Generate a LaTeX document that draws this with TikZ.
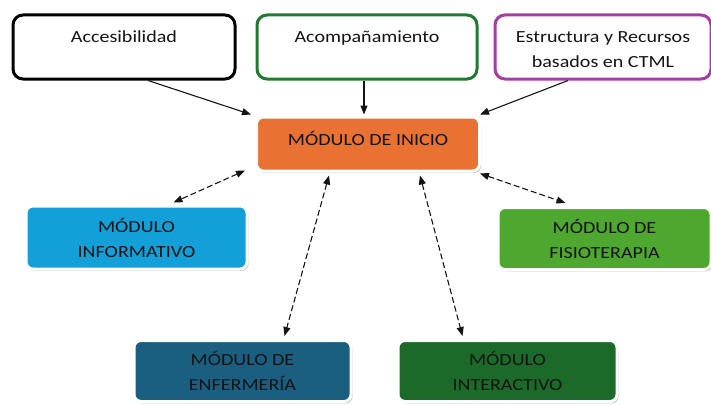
\documentclass[tikz,border=0pt]{standalone}
\usepackage{fontspec}
\setmainfont{Carlito}[FakeStretch=1.18]
\usetikzlibrary{arrows.meta,shadows,calc}
\definecolor{txt}{HTML}{141414}
\definecolor{cacomp}{HTML}{217A32}
\definecolor{cestr}{HTML}{A53DA5}
\definecolor{cini}{HTML}{E97132}
\definecolor{cinf}{HTML}{13A0D8}
\definecolor{cenf}{HTML}{1A5E80}
\definecolor{cfis}{HTML}{4EA72E}
\definecolor{cint}{HTML}{1C6A2A}
\tikzset{
  topbox/.style={draw=#1, line width=3pt, rounded corners=10pt, fill=white,
    align=center, text=txt, font=\fontsize{17}{25}\selectfont, inner sep=2pt},
  modbox/.style={draw=white, line width=3pt, rounded corners=7pt, fill=#1,
    align=center, text=txt, font=\fontsize{17}{25}\selectfont, inner sep=2pt,
    drop shadow={shadow xshift=1.6pt, shadow yshift=-1.8pt, fill=black!35, opacity=0.7}},
  link/.style={draw=txt, line width=1.1pt, -{Triangle[length=9pt,width=7pt]}},
  dlink/.style={draw=txt, line width=1.1pt, dash pattern=on 6pt off 3pt,
    {Triangle[length=9pt,width=7pt]}-{Triangle[length=9pt,width=7pt]}}
}
\begin{document}
\begin{tikzpicture}[x=1pt,y=-1pt]
\useasboundingbox (0,0) rectangle (711,404);
% top boxes
\node[topbox=black, minimum width=222pt, minimum height=64pt] (acc) at (124,47)
  {\raisebox{4.5pt}[0pt][0pt]{Accesibilidad}};
\node[topbox=cacomp, minimum width=220pt, minimum height=64pt] (acom) at (367,47)
  {\raisebox{4.5pt}[0pt][0pt]{Acompañamiento}};
\node[topbox=cestr, minimum width=216pt, minimum height=64pt] (est) at (603,47)
  {\raisebox{-7.25pt}[0pt][0pt]{\begin{tabular}{@{}c@{}}Estructura y Recursos\\basados en CTML\end{tabular}}};
% modules
\node[modbox=cini, minimum width=223pt, minimum height=54pt] (ini) at (368,144)
  {\raisebox{-1.5pt}[0pt][0pt]{MÓDULO DE INICIO}};
\node[modbox=cinf, minimum width=221pt, minimum height=63pt] (inf) at (136.5,237.5) {MÓDULO\\INFORMATIVO};
\node[modbox=cenf, minimum width=217pt, minimum height=61pt] (enf) at (242.5,371) {MÓDULO DE\\ENFERMERÍA};
\node[modbox=cfis, minimum width=213pt, minimum height=62pt] (fis) at (604.5,238.5) {MÓDULO DE\\FISIOTERAPIA};
\node[modbox=cint, minimum width=219pt, minimum height=61pt] (int) at (507.5,371) {MÓDULO\\INTERACTIVO};
% solid arrows
\draw[link] ([xshift=24pt]acc.south) -- ([xshift=-4pt,yshift=1pt]ini.north west);
\draw[link] ([xshift=-3pt]acom.south) -- ([xshift=-4pt,yshift=1pt]ini.north);
\draw[link] ([xshift=-35pt]est.south) -- ([xshift=-1pt,yshift=1pt]ini.north east);
% dashed double arrows
\draw[dlink] ([xshift=-10pt,yshift=2pt]ini.south west) -- ([xshift=37pt,yshift=2pt]inf.north);
\draw[dlink] ([xshift=-39pt,yshift=-3pt]ini.south) -- ([xshift=42pt,yshift=3pt]enf.north);
\draw[dlink] ([xshift=52pt,yshift=-3pt]ini.south) -- ([xshift=-45pt,yshift=3pt]int.north);
\draw[dlink] ([xshift=-1pt,yshift=-1pt]ini.south east) -- ([xshift=-39pt,yshift=3pt]fis.north);
\end{tikzpicture}
\end{document}
